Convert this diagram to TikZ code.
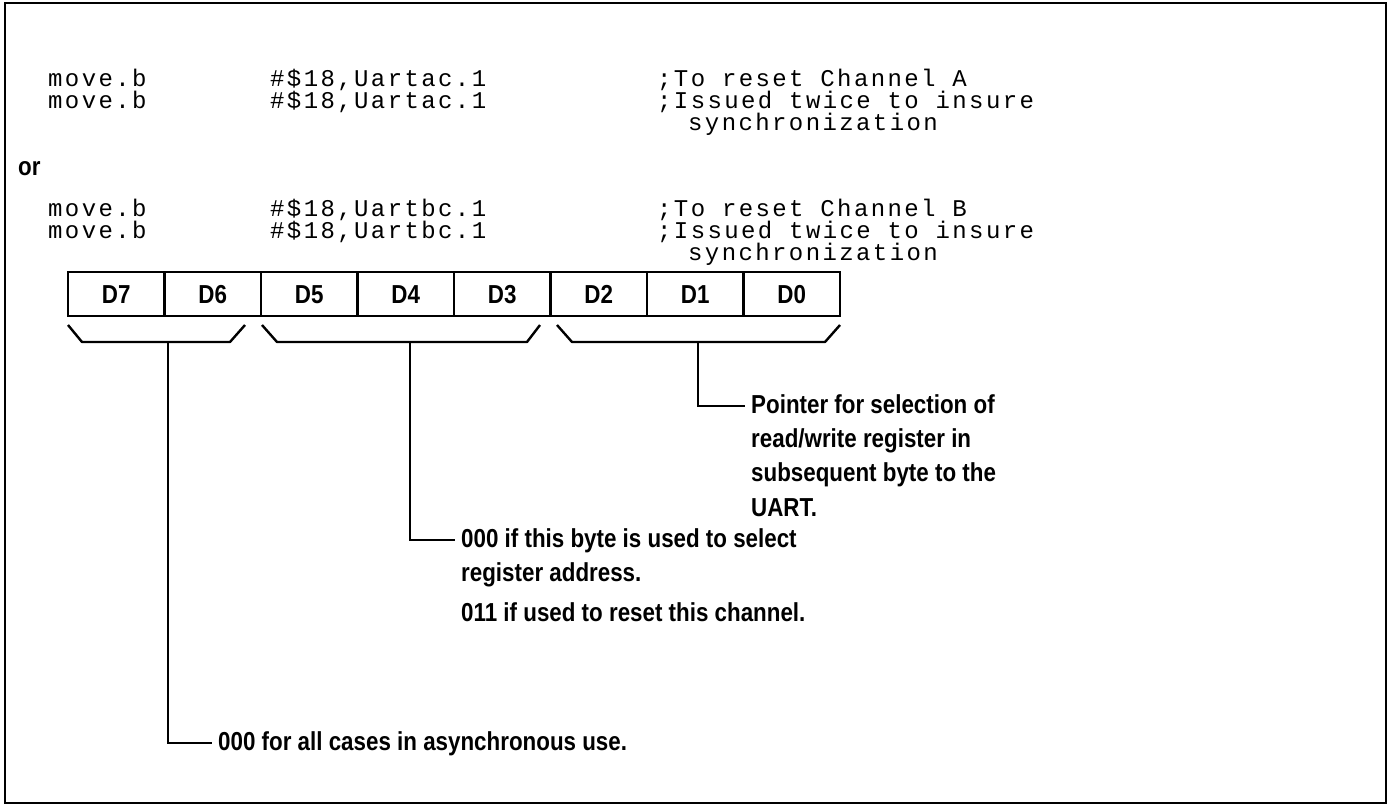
\documentclass[tikz,border=0pt]{standalone}
\usepackage{fontspec}
\setmainfont{Liberation Sans}
\newfontfamily\codefont[LetterSpace=10]{Liberation Mono}
\usetikzlibrary{positioning}
\newcommand{\narrow}[1]{\scalebox{0.86}[1]{#1}}
\tikzset{
  code/.style={anchor=base west,inner sep=0pt,font=\codefont\fontsize{24}{26}\selectfont},
  sans/.style={font=\bfseries\fontsize{26}{28}\selectfont},
  bitcell/.style={sans,draw,line width=2.6pt,minimum width=96.5pt,minimum height=44pt,
    inner sep=0pt,text height=19pt,text depth=0pt},
  lbl/.style={sans,anchor=west,inner xsep=6pt,inner ysep=5pt,text height=19pt,text depth=5pt},
  brace/.style={line width=2.4pt,line join=round},
  lead/.style={line width=2pt}
}

\begin{document}
\begin{tikzpicture}[x=1pt,y=-1pt]
\useasboundingbox (0,0) rectangle (1392,807);
\draw[line width=1.5pt] (5,3) rectangle (1386,803);
% channel A
\node[code] (a1op) at (48,86) {move.b};
\node[code] (a1arg) at (270,86) {\#\$18,Uartac.1};
\node[code] (a1rem) at (657,86) {;To reset Channel A};
\node[code] (a2op) at (48,108) {move.b};
\node[code] (a2arg) at (270,108) {\#\$18,Uartac.1};
\node[code] (a2rem) at (657,108) {;Issued twice to insure};
\node[code] (a3rem) at (688,130) {synchronization};
\node[sans,anchor=base west,inner sep=0pt] (or) at (18,175) {\narrow{or}};
% channel B
\node[code] (b1op) at (48,216) {move.b};
\node[code] (b1arg) at (270,216) {\#\$18,Uartbc.1};
\node[code] (b1rem) at (657,216) {;To reset Channel B};
\node[code] (b2op) at (48,238) {move.b};
\node[code] (b2arg) at (270,238) {\#\$18,Uartbc.1};
\node[code] (b2rem) at (657,238) {;Issued twice to insure};
\node[code] (b3rem) at (688,260) {synchronization};
% register bits
\foreach \b [count=\i from 0] in {7,...,0}
  \node[bitcell] (d\b) at ({116.25+96.5*\i},294) {\narrow{D\b}};
% field brackets
\draw[brace] (68,325) -- (82,342) -- (230,342) -- (245,325);
\draw[brace] (262,325) -- (277,342) -- (527,342) -- (540,325);
\draw[brace] (557,325) -- (572,342) -- (825,342) -- (840,325);
\coordinate (s1) at (168,342);
\coordinate (s2) at (410,342);
\coordinate (s3) at (698,342);
% descriptions
\node[lbl] (p1) at (745,406) {\narrow{Pointer for selection of}};
\node[lbl,anchor=north west] (p2) at (p1.south west) {\narrow{read/write register in}};
\node[lbl,anchor=north west] (p3) at (p2.south west) {\narrow{subsequent byte to the}};
\node[lbl,anchor=north west] (p4) at (p3.south west) {\narrow{UART.}};
\node[lbl] (r1) at (455,540) {\narrow{000 if this byte is used to select}};
\node[lbl,anchor=north west] (r2) at (r1.south west) {\narrow{register address.}};
\node[lbl,anchor=north west,yshift=-6pt] (r3) at (r2.south west) {\narrow{011 if used to reset this channel.}};
\node[lbl] (m1) at (212,743) {\narrow{000 for all cases in asynchronous use.}};
\draw[lead] (s3) |- (p1.west);
\draw[lead] (s2) |- (r1.west);
\draw[lead] (s1) |- (m1.west);
\end{tikzpicture}
\end{document}
